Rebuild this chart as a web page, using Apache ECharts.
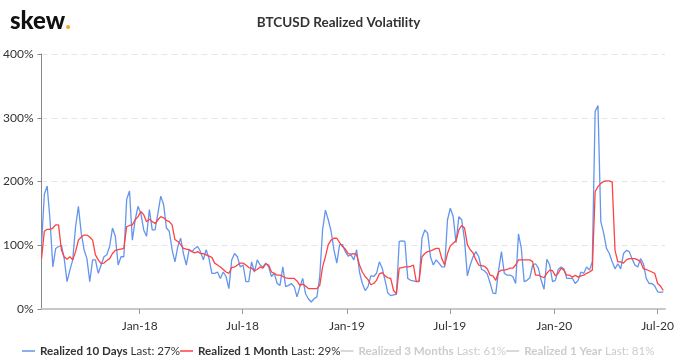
<!DOCTYPE html>
<html>
<head>
<meta charset="utf-8">
<script src="https://cdn.jsdelivr.net/npm/echarts@6/dist/echarts.min.js"></script>
<style>html,body{margin:0;padding:0;background:#fff}#c{width:677px;height:361px}</style>
</head>
<body>
<div id="c"></div>
<script>
// ---- data (sampled every 5 days starting 2017-07-12) ----
const startYear = 2017, startMonth = 6, startDay = 12, stepDays = 5;
const seriesNames = ['Realized 10 Days', 'Realized 1 Month', 'Realized 3 Months', 'Realized 1 Year'];
const lastValues = [27, 29, 61, 81];
const vol10d = [100,180,193,140,66,95,98,100,79,43,
 61,77,129,161,119,93,79,43,77,77,
 56,69,82,85,98,127,114,69,82,82,
 172,185,108,140,161,150,124,114,156,124,
 124,150,177,164,127,122,93,74,98,111,
 87,69,93,90,95,98,90,77,93,79,
 56,56,58,48,58,51,32,77,87,82,
 66,69,43,43,74,58,77,69,66,72,
 66,51,56,40,37,66,35,37,40,35,
 19,35,48,24,16,11,16,19,51,124,
 155,140,122,93,72,101,101,90,83,85,
 77,93,58,40,29,35,52,51,56,74,
 64,45,25,21,22,23,106,107,106,48,
 45,44,43,43,111,124,119,82,69,77,
 72,66,66,140,158,145,104,145,140,108,
 52,69,82,90,82,62,60,55,41,25,
 24,61,90,56,53,53,51,40,118,95,
 43,45,49,69,71,64,45,31,78,69,
 43,45,62,66,63,48,48,48,40,45,
 58,56,66,61,74,310,319,137,119,95,
 87,74,63,71,63,87,92,90,79,69,
 66,79,71,48,40,40,36,27,26,27];
const vol1m = [79,122,125,125,127,132,132,93,82,78,
 82,77,90,108,113,116,116,113,108,85,
 77,71,72,76,79,87,92,93,94,95,
 129,131,132,140,145,153,148,137,141,137,
 134,140,145,143,139,137,132,109,106,101,
 95,94,93,90,88,90,87,87,85,83,
 81,72,69,66,62,58,56,65,66,69,
 72,72,69,65,64,60,62,66,64,71,
 69,58,56,53,53,51,49,48,48,48,
 44,37,39,36,32,32,32,32,37,66,
 82,101,108,111,111,104,98,94,87,86,
 87,85,69,58,51,46,38,40,45,55,
 57,52,49,48,29,24,64,65,66,66,
 67,69,43,44,82,87,90,91,93,95,
 95,79,69,87,99,103,107,124,131,127,
 101,93,88,77,69,68,67,63,53,52,
 45,58,61,61,62,64,64,69,77,77,
 77,77,77,74,53,53,51,49,56,61,
 60,52,56,64,61,53,53,50,53,50,
 52,53,56,58,61,184,192,197,200,201,
 201,199,92,74,74,72,77,79,79,79,
 77,74,63,62,60,58,56,40,36,29];
const vol3m = [];
const vol1y = [];
const tickDates = [[2018,0,1],[2018,6,1],[2019,0,1],[2019,6,1],[2020,0,1],[2020,6,1]];
const tickLabels = ['Jan-18','Jul-18','Jan-19','Jul-19','Jan-20','Jul-20'];

// ---- build ----
const ts = (y,m,d) => new Date(y,m,d).getTime();
const dates = vol10d.map((_, i) => ts(startYear, startMonth, startDay + i*stepDays));
const pair = arr => arr.map((v, i) => [dates[i], v]);
const tickTimes = tickDates.map(d => ts(d[0], d[1], d[2]));

const chart = echarts.init(document.getElementById('c'), null, {renderer:'canvas'});
const colors = ['#6495ed', '#ff4242', '#7cb5ec', '#434348'];
const seriesData = [vol10d, vol1m, vol3m, vol1y];
const selected = {};
seriesNames.forEach((n, i) => selected[n] = i < 2);

chart.setOption({
  animation: false,
  color: colors,
  textStyle: {fontFamily: 'Lato'},
  title: {
    text: 'BTCUSD Realized Volatility', left: 'center', top: 11,
    textStyle: {fontSize: 13.5, fontWeight: 'bold', color: '#333', fontFamily: 'Lato'}
  },
  graphic: [{
    type: 'text', left: 10, top: 9,
    style: {
      text: '{s|skew}{d|.}',
      rich: {
        s: {fontSize: 24, fontWeight: 900, fill: '#111', fontFamily: 'Lato'},
        d: {fontSize: 24, fontWeight: 900, fill: '#f5a623', fontFamily: 'Lato'}
      }
    }
  }],
  legend: {
    left: 17, right: 0, top: 340, itemGap: 0, itemWidth: 13, itemHeight: 1.5, icon: 'rect',
    selected: selected, inactiveColor: '#cccccc',
    data: seriesNames,
    formatter: name => '{b|' + name + '} {n|Last: ' + lastValues[seriesNames.indexOf(name)] + '%}',
    textStyle: {
      color: '#333', fontFamily: 'Lato', fontSize: 11.6,
      rich: {b: {fontWeight: 'bold', fontSize: 11.6, fontFamily: 'Lato'}, n: {fontSize: 11.6, fontFamily: 'Lato'}}
    }
  },
  grid: {left: 41, right: 5, top: 54, bottom: 52},
  xAxis: {
    type: 'value',
    min: ts(2017, 6, 12), max: ts(2020, 6, 14),
    axisLine: {lineStyle: {color: '#c8c8c8', width: 2}},
    axisTick: {show: true, customValues: tickTimes, length: 5, lineStyle: {color: '#999'}},
    axisLabel: {
      customValues: tickTimes, color: '#333', fontSize: 12, margin: 11, fontFamily: 'Lato',
      formatter: v => { const k = tickTimes.indexOf(v); return k >= 0 ? tickLabels[k] : ''; }
    },
    splitLine: {show: false}
  },
  yAxis: {
    type: 'value', min: 0, max: 400, interval: 100,
    axisLine: {show: true, lineStyle: {color: '#888', width: 1}},
    axisTick: {show: true, length: 4, lineStyle: {color: '#888'}},
    axisLabel: {formatter: '{value}%', color: '#333', fontSize: 12, margin: 8, fontFamily: 'Lato'},
    splitLine: {show: true, lineStyle: {color: '#e6e6e6', type: [6, 4]}}
  },
  series: seriesNames.map((n, i) => ({
    name: n, type: 'line', data: pair(seriesData[i]), showSymbol: false, symbol: 'none',
    lineStyle: {width: 1.3, color: colors[i]}, itemStyle: {color: colors[i]}
  }))
});
</script>
</body>
</html>
